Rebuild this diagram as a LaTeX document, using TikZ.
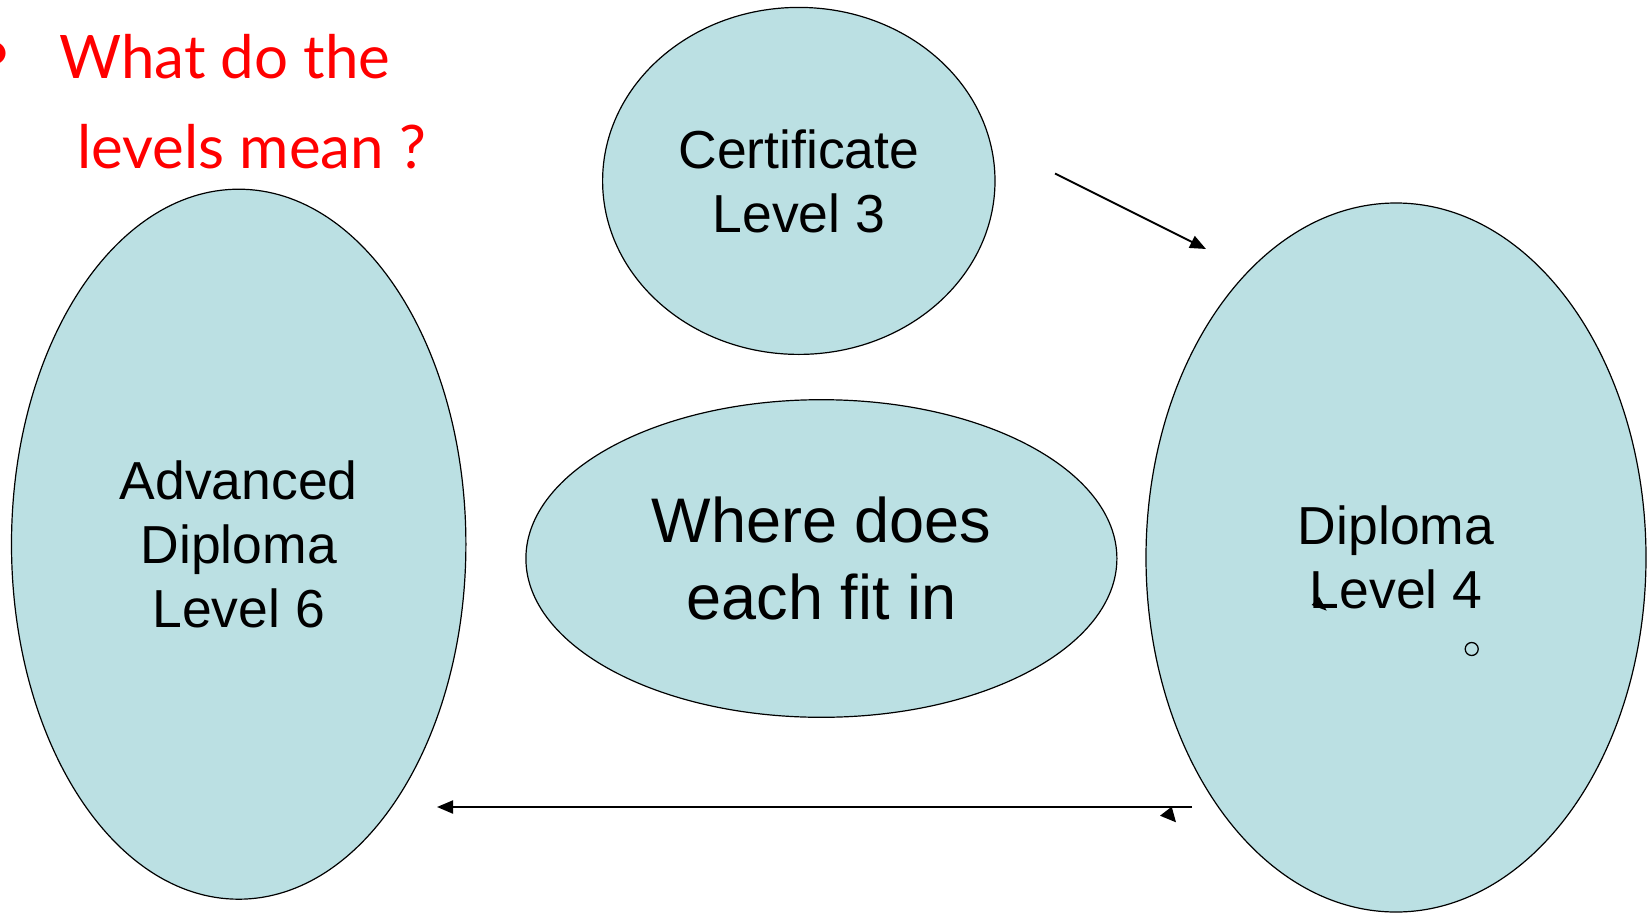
\documentclass[tikz,border=0pt]{standalone}
\usepackage{fontspec}
\setmainfont{Liberation Sans}
\newfontfamily\redfont{Lato}
\usetikzlibrary{shapes.geometric,arrows.meta}
\definecolor{bubblecol}{HTML}{BBE0E3}
\definecolor{pptred}{HTML}{FF0000}
\begin{document}
\begin{tikzpicture}[x=1pt,y=-1pt,
  bubble/.style={ellipse, draw=black, line width=1.2pt, fill=bubblecol, inner sep=0pt, align=center, text=black},
  arr/.style={line width=2pt, -{Triangle[length=16pt,width=13pt]}},
  lbl/.style={font=\fontsize{53.5}{64}\selectfont},
  bigl/.style={font=\fontsize{63}{77}\selectfont},
  redt/.style={anchor=base west, inner sep=0pt, text=pptred, font=\redfont\fontsize{60}{60}\selectfont}]
\useasboundingbox (0,0) rectangle (1649,913);
% title
\node[anchor=center, inner sep=0pt, text=pptred, font=\redfont\fontsize{60}{60}\selectfont] (bul) at (-5,57) {•};
\node[redt] (q1) at (59,78) {What do the};
\node[redt] (q2) at (77,168) {levels mean ?};
% bubbles
\node[bubble, lbl, minimum width=392.4pt, minimum height=347pt] (cert) at (798.8,180.9) {Certificate\\Level 3};
\node[bubble, lbl, minimum width=454.4pt, minimum height=710pt] (adv) at (238.7,544.2) {Advanced\\Diploma\\Level 6};
\node[bubble, bigl, minimum width=591pt, minimum height=317.6pt] (where) at (821.4,558.5) {Where does\\each fit in};
\node[bubble, lbl, minimum width=500pt, minimum height=709pt] (dip) at (1396,557.5) {Diploma\\Level 4};
% connectors
\coordinate (a1s) at (1055,173.5);
\coordinate (a1e) at (1206,249);
\draw[arr] (a1s) -- (a1e);
\coordinate (a2s) at (1192,807);
\coordinate (a2e) at (437,807);
\draw[arr] (a2s) -- (a2e);
% stray marks
\fill (1160,815.7) -- (1171.7,806.7) -- (1176,822.3) -- cycle;
\fill (1311.7,605) -- (1319,596.7) -- (1326.7,610.7) -- cycle;
\draw[line width=1.3pt] (1471.7,649) circle[radius=6.5pt];
\end{tikzpicture}
\end{document}
